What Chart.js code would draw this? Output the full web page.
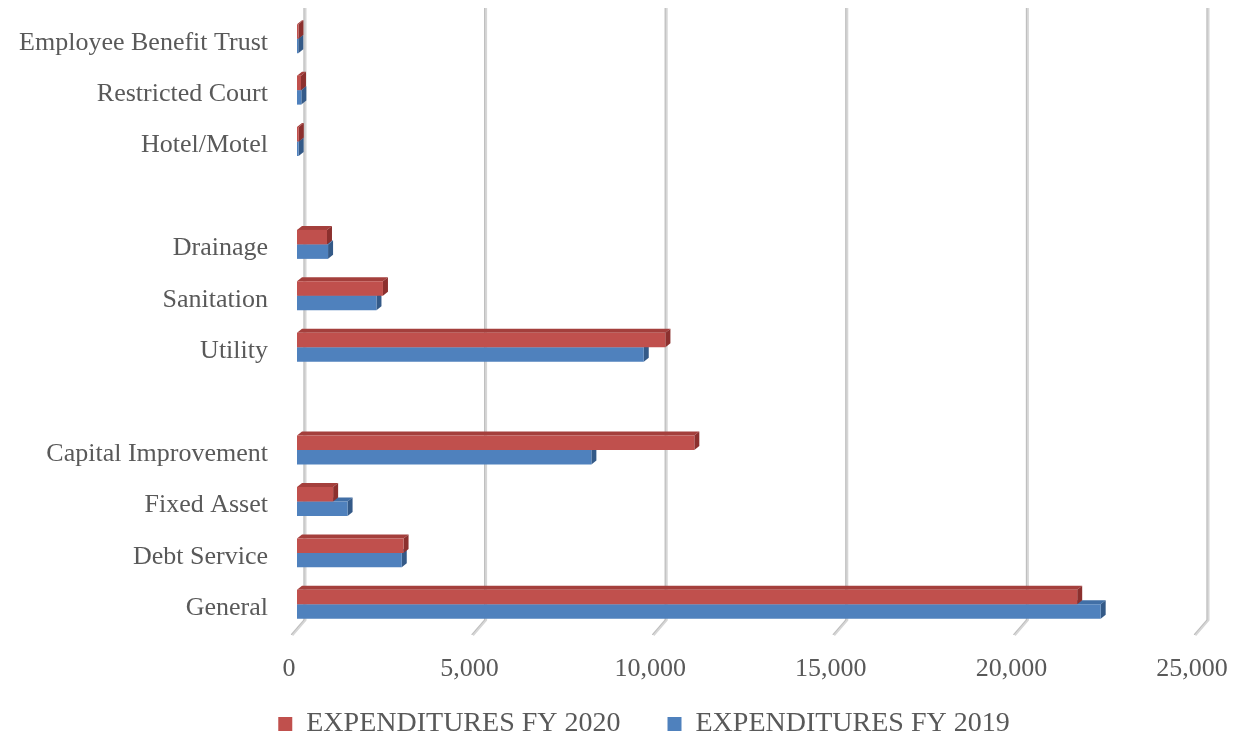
<!DOCTYPE html>
<html>
<head>
<meta charset="utf-8">
<script src="https://cdn.jsdelivr.net/npm/chart.js@4/dist/chart.umd.min.js"></script>
<style>
  html, body { margin: 0; padding: 0; background: #fff; }
  #wrap { width: 1240px; height: 735px; }
</style>
</head>
<body>
<div id="wrap"><canvas id="myChart" width="1240" height="735"></canvas></div>
<script>
// funds, top to bottom; empty strings leave a gap between fund groups
const funds = [
  "Employee Benefit Trust",
  "Restricted Court",
  "Hotel/Motel",
  "",
  "Drainage",
  "Sanitation",
  "Utility",
  "",
  "Capital Improvement",
  "Fixed Asset",
  "Debt Service",
  "General",
];
const fy2020 = [40, 110, 50, null, 830, 2380, 10200, null, 11000, 1000, 2950, 21600];
const fy2019 = [35, 120, 45, null, 860, 2200, 9600, null, 8150, 1400, 2900, 22250];
const xTicks = [0, 5000, 10000, 15000, 20000, 25000];

const textColor = "#595959";
const serif = "'Liberation Serif', 'Times New Roman', serif";

// face colours for the extruded look: [front, top, side]
const faces = [
  ["#c0504d", "#a43f3c", "#8c302e"],
  ["#4f81bd", "#416fa6", "#345a88"],
];
const depth = { x: 5, y: -4 };

// gridlines sit on the back wall and fold forward at the floor
const wallGrid = {
  id: "wallGrid",
  beforeDatasetsDraw(chart) {
    const { ctx, chartArea, scales } = chart;
    const bottom = chartArea.bottom;
    ctx.save();
    xTicks.forEach((v) => {
      const xb = scales.x.getPixelForValue(v) + 8;
      ctx.beginPath();
      ctx.moveTo(xb, chartArea.top - 5);
      ctx.lineTo(xb, bottom - 10);
      ctx.lineTo(xb - 13, bottom + 5);
      ctx.lineWidth = 3;
      ctx.strokeStyle = "#d6d6d6";
      ctx.stroke();
      ctx.beginPath();
      ctx.moveTo(xb - 1, chartArea.top - 5);
      ctx.lineTo(xb - 1, bottom - 10);
      ctx.lineTo(xb - 14, bottom + 5);
      ctx.lineWidth = 1;
      ctx.strokeStyle = "#bdbdbd";
      ctx.stroke();
    });
    ctx.restore();
  },
};

// top and side faces of each bar, drawn just before that dataset's fronts
const barDepth = {
  id: "barDepth",
  beforeDatasetDraw(chart, args) {
    const { ctx } = chart;
    const cols = faces[args.index];
    ctx.save();
    args.meta.data.forEach((bar, i) => {
      const v = chart.data.datasets[args.index].data[i];
      if (v === null) return;
      const p = bar.getProps(["x", "y", "base", "height"], true);
      const left = p.base;
      const right = p.x;
      const top = p.y - p.height / 2;
      const bot = p.y + p.height / 2;
      ctx.fillStyle = cols[1];
      ctx.beginPath();
      ctx.moveTo(left, top);
      ctx.lineTo(left + depth.x, top + depth.y);
      ctx.lineTo(right + depth.x, top + depth.y);
      ctx.lineTo(right, top);
      ctx.closePath();
      ctx.fill();
      ctx.fillStyle = cols[2];
      ctx.beginPath();
      ctx.moveTo(right, top);
      ctx.lineTo(right + depth.x, top + depth.y);
      ctx.lineTo(right + depth.x, bot + depth.y);
      ctx.lineTo(right, bot);
      ctx.closePath();
      ctx.fill();
    });
    ctx.restore();
  },
};

// move the legend row into place under the plot
const legendShift = {
  id: "legendShift",
  afterLayout(chart) {
    const lg = chart.legend;
    lg.left += 44;
    lg.right += 44;
    lg.top -= 24;
    lg.bottom -= 24;
  },
};

const ctx = document.getElementById("myChart").getContext("2d");
const myChart = new Chart(ctx, {
  type: "bar",
  plugins: [wallGrid, barDepth, legendShift],
  data: {
    labels: funds,
    datasets: [
      {
        label: "EXPENDITURES FY 2020",
        data: fy2020,
        backgroundColor: faces[0][0],
        borderWidth: 0,
      },
      {
        label: "EXPENDITURES FY 2019",
        data: fy2019,
        backgroundColor: faces[1][0],
        borderWidth: 0,
      },
    ],
  },
  options: {
    indexAxis: "y",
    responsive: false,
    animation: false,
    layout: { autoPadding: false, padding: { top: 13, right: 40, bottom: -37, left: 0 } },
    datasets: {
      bar: { categoryPercentage: 0.564, barPercentage: 1 },
    },
    scales: {
      x: {
        min: 0,
        max: 25000,
        grid: { display: false },
        border: { display: false },
        afterBuildTicks: (axis) => {
          axis.ticks = xTicks.map((v) => ({ value: v }));
        },
        afterFit: (axis) => {
          axis.height = 57;
          axis.paddingLeft = 0;
          axis.paddingRight = 0;
        },
        ticks: {
          color: textColor,
          font: { family: serif, size: 26 },
          padding: 16,
          labelOffset: -8,
          maxRotation: 0,
          callback: (v) => v.toLocaleString("en-US"),
        },
      },
      y: {
        grid: { display: false, drawTicks: false },
        border: { display: false },
        afterFit: (axis) => {
          axis.width = 297;
          axis.paddingTop = 0;
          axis.paddingBottom = 0;
        },
        ticks: {
          color: textColor,
          font: { family: serif, size: 26 },
          padding: 29,
          labelOffset: 4,
          autoSkip: false,
        },
      },
    },
    plugins: {
      tooltip: { enabled: false },
      legend: {
        position: "bottom",
        labels: {
          color: textColor,
          font: { family: serif, size: 28 },
          boxWidth: 14,
          boxHeight: 14,
          padding: 47,
        },
      },
    },
  },
});
</script>
</body>
</html>
